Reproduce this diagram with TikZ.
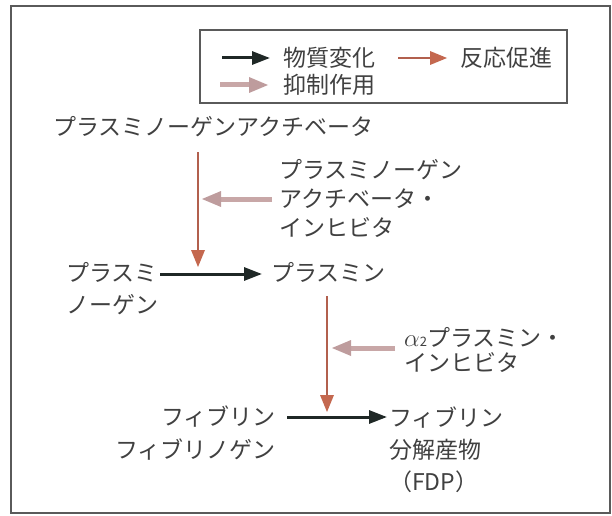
\documentclass[tikz,border=0pt]{standalone}
\usepackage{fontspec}
\newfontfamily\jp{Noto Sans CJK JP}
\usetikzlibrary{arrows.meta}
\definecolor{txt}{HTML}{404040}
\definecolor{framec}{HTML}{5A5A5A}
\definecolor{chgc}{HTML}{1F2826}
\definecolor{prmc}{HTML}{B2604E}
\definecolor{prmh}{HTML}{C4684F}
\definecolor{inhc}{HTML}{C8A7A7}
\definecolor{inhh}{HTML}{BE9C9D}
\begin{document}
\begin{tikzpicture}[x=1pt,y=1pt,
  lbl/.style={font=\jp\fontsize{23}{29}\selectfont, text=txt, inner sep=0pt, align=left},
  chg/.style={draw=chgc, line width=3pt, -{Triangle[length=18pt,width=13pt,color=chgc,fill=chgc]}},
  prm/.style={draw=prmc, line width=2pt, -{Triangle[length=17pt,width=14pt,color=prmh,fill=prmh,line width=0pt]}},
  inh/.style={draw=inhc, line width=5pt, -{Triangle[length=19pt,width=16pt,color=inhh,fill=inhh,line width=0pt]}},
  frame/.style={draw=framec, line width=1.4pt}]
\useasboundingbox (0,0) rectangle (612,515);
% outer frame
\draw[frame] (11,509) rectangle (610,2);
% legend
\draw[frame, line width=1.2pt] (200,485) rectangle (567,412);
\coordinate (lk1) at (222,457); \coordinate (lk2) at (270,457);
\coordinate (lb1) at (398,457); \coordinate (lb2) at (447,457);
\coordinate (lg1) at (220,430); \coordinate (lg2) at (268,430);
\draw[chg] (lk1) -- (lk2);
\draw[prm, line width=2.6pt] (lb1) -- (lb2);
\draw[inh] (lg1) -- (lg2);
\node[lbl, anchor=base west] (t1) at (283,448.5) {物質変化};
\node[lbl, anchor=base west] (t2) at (460,448.5) {反応促進};
\node[lbl, anchor=base west] (t3) at (283,421.5) {抑制作用};
% labels (base anchor = baseline of the last line)
\node[lbl, anchor=base west] (PA) at (53,379.5) {プラスミノーゲンアクチベータ};
\node[lbl, anchor=base west, font=\jp\fontsize{23}{29}\selectfont] (PAI) at (279,278.5) {プラスミノーゲン\\アクチベータ・\\インヒビタ};
\node[lbl, anchor=base west, font=\jp\fontsize{23}{32}\selectfont] (PLG) at (66,201.5) {プラスミ\\ノーゲン};
\node[lbl, anchor=base west] (PL) at (271,233.5) {プラスミン};
\node[lbl, anchor=base west, font=\jp\fontsize{23}{25}\selectfont] (A2) at (404,143.5) {{$\alpha$}{\fontsize{13}{13}\selectfont 2}プラスミン・\\インヒビタ};
\node[lbl, anchor=base east, align=right, font=\jp\fontsize{23}{33}\selectfont] (FIB) at (276,56.5) {フィブリン\\フィブリノゲン};
\node[lbl, anchor=base west, font=\jp\fontsize{23}{32}\selectfont] (FDP) at (389,24.5) {フィブリン\\分解産物\\（FDP）};
% connectors
\coordinate (p1s) at (198,363); \coordinate (p1e) at (198,248);
\coordinate (i1s) at (272,316); \coordinate (i1e) at (202,316);
\coordinate (k1s) at (160,241); \coordinate (k1e) at (262,241);
\coordinate (p2s) at (327,219); \coordinate (p2e) at (327,103);
\coordinate (i2s) at (395,167); \coordinate (i2e) at (332,167);
\coordinate (k2s) at (287,98); \coordinate (k2e) at (387,98);
\draw[prm] (p1s) -- (p1e);
\draw[inh] (i1s) -- (i1e);
\draw[chg] (k1s) -- (k1e);
\draw[prm] (p2s) -- (p2e);
\draw[inh] (i2s) -- (i2e);
\draw[chg] (k2s) -- (k2e);
\end{tikzpicture}
\end{document}
